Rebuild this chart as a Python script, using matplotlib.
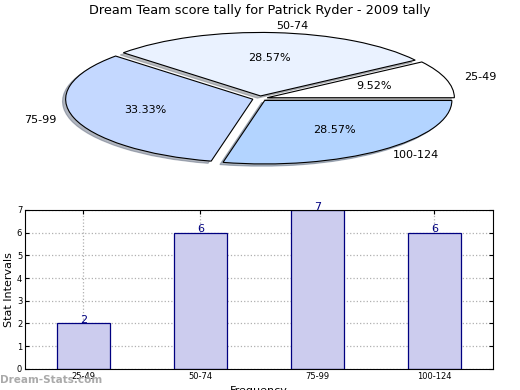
import matplotlib
matplotlib.use("Agg")
import matplotlib.pyplot as plt

categories = ["25-49", "50-74", "75-99", "100-124"]
counts = [2, 6, 7, 6]
pie_colors = ["#ffffff", "#eaf2ff", "#c4d8ff", "#b3d4ff"]
title = "Dream Team score tally for Patrick Ryder - 2009 tally"

fig = plt.figure(figsize=(5.2, 3.9), dpi=100)

# Pie (flattened ellipse)
axp = fig.add_axes([0.05, 0.544, 0.9, 0.407])
wedges, texts, autotexts = axp.pie(
    counts, labels=categories, colors=pie_colors, autopct="%.2f%%",
    explode=[0.04] * 4,
    shadow={"ox": -0.012, "oy": -0.025, "shade": 0.5},
    startangle=0,
    wedgeprops=dict(edgecolor="black", linewidth=0.8),
    textprops=dict(fontsize=8))
axp.set_aspect("auto")
axp.set_xlim(-1.25, 1.25)
axp.set_ylim(-1.25, 1.25)
fig.text(0.5, 0.972, title, ha="center", va="center", fontsize=9.3)

# Bars
axb = fig.add_axes([0.048, 0.054, 0.9, 0.408])
x = list(range(len(categories)))
bars = axb.bar(x, counts, width=0.45, color="#ccccee", edgecolor="#000080",
               linewidth=0.9, zorder=2)
for xi, c in zip(x, counts):
    axb.text(xi, c - 0.08, str(c), ha="center", va="bottom", color="#000080",
             fontsize=8, zorder=3)
axb.set_xlim(-0.5, 3.5)
axb.set_ylim(0, 7)
axb.set_xticks(x)
axb.set_xticklabels(categories)
axb.set_yticks(range(0, 8))
axb.tick_params(direction="in", top=True, right=True, labelsize=6, length=3, pad=2)
axb.grid(True, linestyle=":", color="#b0b0b0", linewidth=0.9, zorder=0)
axb.set_axisbelow(True)
axb.set_ylabel("Stat Intervals", fontsize=8, labelpad=2)
axb.set_xlabel("Frequency", fontsize=8, labelpad=4)

fig.text(0.0, 0.025, "Dream-Stats.com", ha="left", va="center",
         color="#aaaaaa", fontsize=7.5, fontweight="bold")

fig.savefig("out.png", dpi=100)
